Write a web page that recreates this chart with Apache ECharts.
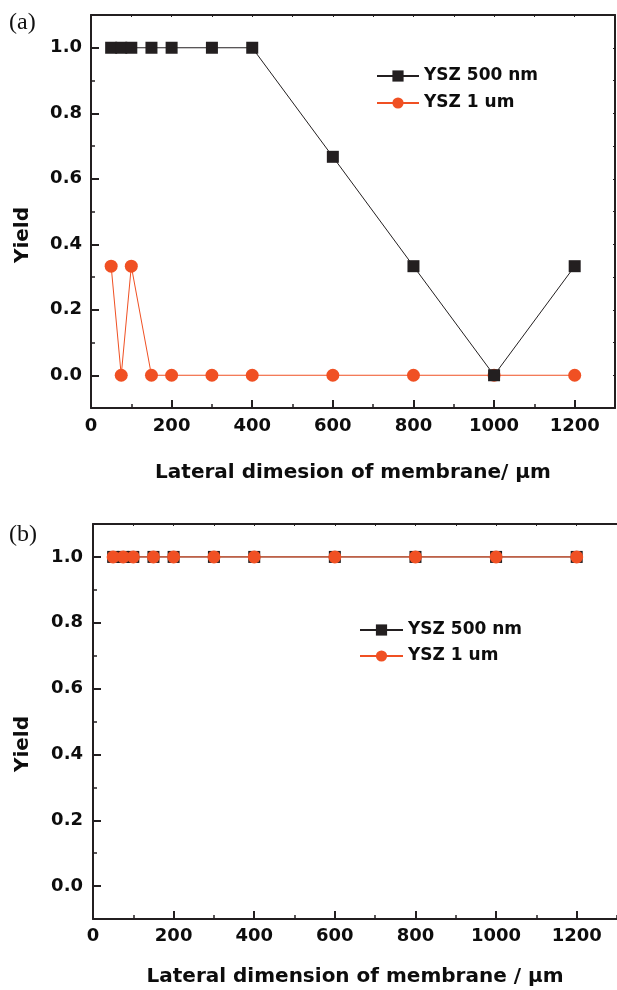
<!DOCTYPE html>
<html>
<head>
<meta charset="utf-8">
<script src="https://cdn.jsdelivr.net/npm/echarts@6/dist/echarts.min.js"></script>
<style>
html,body{margin:0;padding:0;background:#fff;}
#chart{width:617px;height:990px;}
</style>
</head>
<body>
<div id="chart"></div>
<script>
// ---- data ----
const lateralDim = [50, 75, 100, 150, 200, 300, 400, 600, 800, 1000, 1200];
const seriesNames = ['YSZ 500 nm', 'YSZ 1 um'];
// panel (a)
const yieldA500 = [1, 1, 1, 1, 1, 1, 1, 0.667, 0.333, 0, 0.333];
const yieldA1um = [0.333, 0, 0.333, 0, 0, 0, 0, 0, 0, 0, 0];
// panel (b)
const yieldB500 = [1, 1, 1, 1, 1, 1, 1, 1, 1, 1, 1];
const yieldB1um = [1, 1, 1, 1, 1, 1, 1, 1, 1, 1, 1];
const xTitleA = 'Lateral dimesion of membrane/ \u03bcm';
const xTitleB = 'Lateral dimension of membrane / \u03bcm';
const yTitle = 'Yield';
const panelLabels = ['(a)', '(b)'];

const BLACK = '#231f20';
const RED = '#f05023';
const AX = '#231f20';
const TXT = '#0d0d0d';
const FONT = 'DejaVu Sans';

function pairs(xs, ys) { return xs.map((x, i) => [x, ys[i]]); }

const grids = [
  {left: 91, top: 15, width: 524, height: 393},
  {left: 93, top: 524, width: 527, height: 395}
];

const xAxes = [], yAxes = [];
const titles = [xTitleA, xTitleB];
const nameGaps = [65, 58];
const xMargins = [9, 8];
const yMargins = [9, 10];
const showRight = [true, false];
grids.forEach((g, gi) => {
  // main bottom x axis
  xAxes.push({
    gridIndex: gi, type: 'value', position: 'bottom', min: 0, max: 1300, interval: 200,
    axisLine: {show: true, onZero: false, lineStyle: {color: AX, width: 2}},
    axisTick: {show: true, inside: true, length: 8, lineStyle: {color: AX, width: 2}},
    axisLabel: {show: true, margin: xMargins[gi], color: TXT, fontFamily: FONT, fontWeight: 'bold', fontSize: 18,
      showMaxLabel: false, formatter: v => String(v)},
    splitLine: {show: false},
    name: titles[gi], nameLocation: 'middle', nameGap: nameGaps[gi],
    nameTextStyle: {color: TXT, fontFamily: FONT, fontWeight: 'bold', fontSize: 20, verticalAlign: 'middle'}
  });
  // minor bottom ticks
  xAxes.push({
    gridIndex: gi, type: 'value', position: 'bottom', min: 0, max: 1300, interval: 100,
    axisLine: {show: false, onZero: false},
    axisTick: {show: true, inside: true, length: 4, lineStyle: {color: AX, width: 1.5}},
    axisLabel: {show: false}, splitLine: {show: false}
  });
  // top mirror
  xAxes.push({
    gridIndex: gi, type: 'value', position: 'top', min: 0, max: 1300, interval: 100,
    axisLine: {show: true, onZero: false, lineStyle: {color: AX, width: 2}},
    axisTick: {show: true, inside: true, length: 2, lineStyle: {color: AX, width: 1}},
    axisLabel: {show: false}, splitLine: {show: false}
  });
  // main left y axis (auto interval 0.2)
  yAxes.push({
    gridIndex: gi, type: 'value', position: 'left', min: -0.1, max: 1.1,
    axisLine: {show: true, onZero: false, lineStyle: {color: AX, width: 2}},
    axisTick: {show: true, inside: true, length: 8, lineStyle: {color: AX, width: 2}},
    axisLabel: {show: true, margin: yMargins[gi], color: TXT, fontFamily: FONT, fontWeight: 'bold', fontSize: 18,
      showMinLabel: false, showMaxLabel: false, formatter: v => v.toFixed(1)},
    splitLine: {show: false}
  });
  // minor left ticks
  yAxes.push({
    gridIndex: gi, type: 'value', position: 'left', min: -0.1, max: 1.1, interval: 0.1,
    axisLine: {show: false, onZero: false},
    axisTick: {show: true, inside: true, length: 4, lineStyle: {color: AX, width: 1.5}},
    axisLabel: {show: false}, splitLine: {show: false}
  });
  // right mirror
  yAxes.push({
    gridIndex: gi, type: 'value', position: 'right', min: -0.1, max: 1.1, interval: 0.1,
    axisLine: {show: showRight[gi], onZero: false, lineStyle: {color: AX, width: 2}},
    axisTick: {show: showRight[gi], inside: true, length: 2, lineStyle: {color: AX, width: 1}},
    axisLabel: {show: false}, splitLine: {show: false}
  });
});

function blackSeries(gi, ys) {
  return {
    name: seriesNames[0], type: 'line', xAxisIndex: gi * 3, yAxisIndex: gi * 3,
    data: pairs(lateralDim, ys), symbol: 'rect', symbolSize: 12,
    itemStyle: {color: BLACK}, lineStyle: {color: BLACK, width: 1}, animation: false
  };
}
function redSeries(gi, ys) {
  return {
    name: seriesNames[1], type: 'line', xAxisIndex: gi * 3, yAxisIndex: gi * 3,
    data: pairs(lateralDim, ys), symbol: 'circle', symbolSize: 13,
    itemStyle: {color: RED}, lineStyle: {color: RED, width: 1}, animation: false
  };
}

const option = {
  backgroundColor: '#fff',
  animation: false,
  grid: grids,
  xAxis: xAxes,
  yAxis: yAxes,
  legend: [
    {data: seriesNames, orient: 'vertical', left: 371, top: 61, itemWidth: 42, itemHeight: 14, itemGap: 7,
      textStyle: {color: TXT, fontFamily: FONT, fontWeight: 'bold', fontSize: 17, lineHeight: 20}, selectedMode: false},
    {data: seriesNames, orient: 'vertical', left: 354, top: 615, itemWidth: 43, itemHeight: 14, itemGap: 6,
      textStyle: {color: TXT, fontFamily: FONT, fontWeight: 'bold', fontSize: 17, lineHeight: 20}, selectedMode: false}
  ],
  graphic: [
    {type: 'text', left: 9, top: 11, style: {text: panelLabels[0], font: '24px "Liberation Serif"', fill: '#111'}},
    {type: 'text', left: 9, top: 523, style: {text: panelLabels[1], font: '24px "Liberation Serif"', fill: '#111'}},
    {type: 'text', x: 23, y: 235, rotation: Math.PI / 2,
      style: {text: yTitle, font: 'bold 20px "DejaVu Sans"', fill: TXT, align: 'center', verticalAlign: 'middle'}},
    {type: 'text', x: 23, y: 744, rotation: Math.PI / 2,
      style: {text: yTitle, font: 'bold 20px "DejaVu Sans"', fill: TXT, align: 'center', verticalAlign: 'middle'}}
  ],
  series: [
    redSeries(0, yieldA1um),
    blackSeries(0, yieldA500),
    blackSeries(1, yieldB500),
    redSeries(1, yieldB1um)
  ]
};

const chart = echarts.init(document.getElementById('chart'), null, {renderer: 'canvas'});
chart.setOption(option);
</script>
</body>
</html>
